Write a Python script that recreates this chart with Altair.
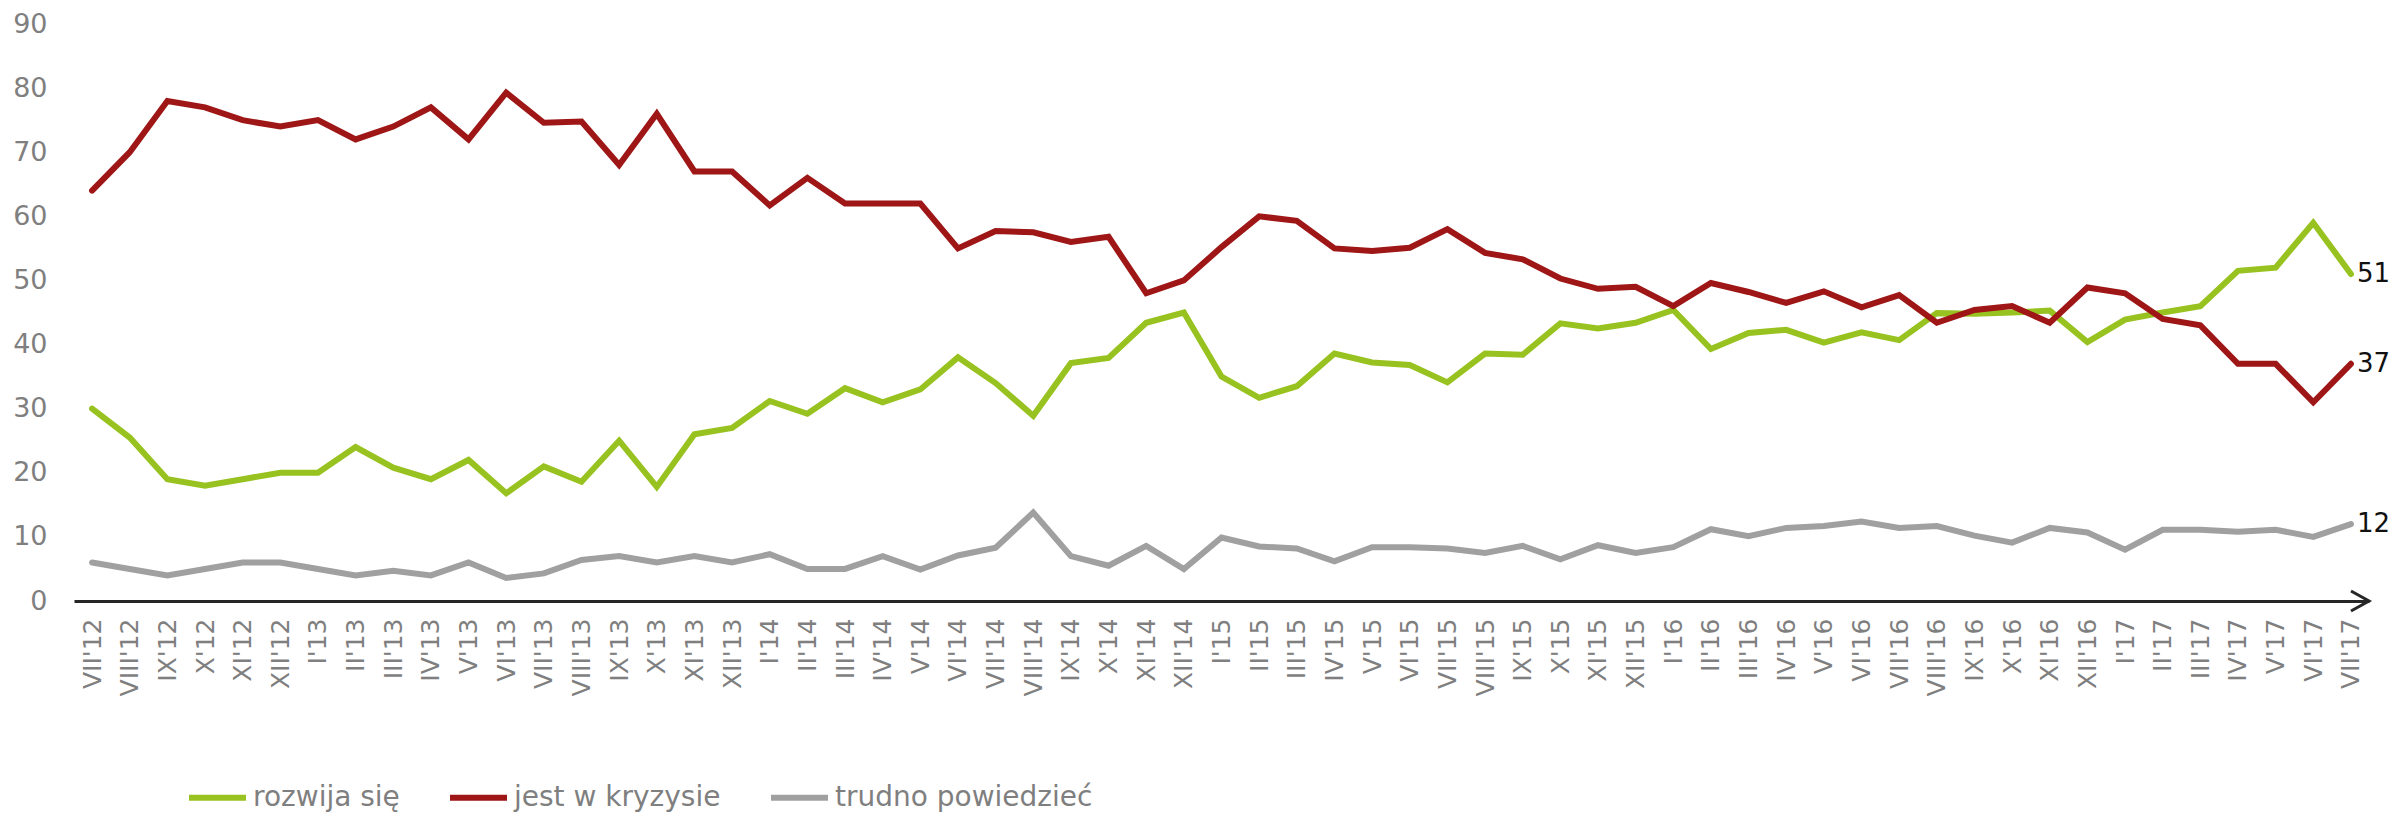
import altair as alt
import pandas as pd

months = ["VII'12", "VIII'12", "IX'12", "X'12", "XI'12", "XII'12",
          "I'13", "II'13", "III'13", "IV'13", "V'13", "VI'13", "VII'13", "VIII'13", "IX'13", "X'13", "XI'13", "XII'13",
          "I'14", "II'14", "III'14", "IV'14", "V'14", "VI'14", "VII'14", "VIII'14", "IX'14", "X'14", "XI'14", "XII'14",
          "I'15", "II'15", "III'15", "IV'15", "V'15", "VI'15", "VII'15", "VIII'15", "IX'15", "X'15", "XI'15", "XII'15",
          "I'16", "II'16", "III'16", "IV'16", "V'16", "VI'16", "VII'16", "VIII'16", "IX'16", "X'16", "XI'16", "XII'16",
          "I'17", "II'17", "III'17", "IV'17", "V'17", "VI'17", "VII'17"]

rozwija = [30, 25.5, 19, 18, 19, 20, 20, 24, 20.8, 19, 22, 16.8, 21, 18.6, 25, 17.8, 26, 27, 31.2, 29.2,
           33.2, 31, 33, 38, 34, 28.9, 37.1, 37.9, 43.4, 45, 35, 31.7, 33.5, 38.6, 37.2, 36.8, 34.1, 38.6,
           38.4, 43.3, 42.5, 43.4, 45.4, 39.3, 41.8, 42.3, 40.3, 41.9, 40.7, 44.9, 44.8, 45, 45.3, 40.4,
           43.9, 45, 46, 51.5, 52, 59, 51]

kryzys = [64, 70, 78, 77, 75, 74, 75, 72, 74, 77, 72, 79.3, 74.6, 74.8, 68, 76, 67, 67, 61.7, 66,
          62, 62, 62, 55, 57.7, 57.5, 56, 56.8, 48, 50, 55.2, 60, 59.3, 55, 54.6, 55.1, 58, 54.3, 53.3,
          50.3, 48.7, 49, 46, 49.6, 48.2, 46.5, 48.3, 45.8, 47.7, 43.4, 45.4, 46, 43.4, 48.9, 48, 44, 43,
          37, 37, 31, 37]

trudno = [6, 5, 4, 5, 6, 6, 5, 4, 4.7, 4, 6, 3.6, 4.3, 6.4, 7, 6, 7, 6, 7.3, 5,
          5, 7, 4.9, 7.1, 8.3, 13.8, 7, 5.5, 8.6, 5, 9.9, 8.5, 8.2, 6.2, 8.4, 8.4, 8.2, 7.5, 8.6, 6.5,
          8.7, 7.5, 8.4, 11.2, 10.1, 11.4, 11.7, 12.4, 11.4, 11.7, 10.2, 9.1, 11.4, 10.7, 8, 11.1, 11.1,
          10.8, 11.1, 10, 12]

series_names = ["rozwija się", "jest w kryzysie", "trudno powiedzieć"]
series_colors = ["#97c21f", "#9e1616", "#a0a0a0"]
y_ticks = [0, 10, 20, 30, 40, 50, 60, 70, 80, 90]

rows = []
for name, vals in zip(series_names, [rozwija, kryzys, trudno]):
    for i, (m, v) in enumerate(zip(months, vals)):
        rows.append({"month": m, "idx": i, "series": name, "value": v,
                     "last": i == len(months) - 1})
df = pd.DataFrame(rows)

W, H = 2295, 577
FONT = "DejaVu Sans"

x_enc = alt.X("month:N", sort=months,
              scale=alt.Scale(type="point", padding=0.48),
              axis=alt.Axis(title=None, labelAngle=-90, labelFontSize=25, labelColor="#7f7f7f",
                            labelPadding=17, ticks=False, tickSize=0, domainColor="#262626",
                            domainWidth=3, labelOverlap=False, grid=False, labelFont=FONT))
y_enc = alt.Y("value:Q", scale=alt.Scale(domain=[0, 90], nice=False),
              axis=alt.Axis(title=None, values=y_ticks, domain=False, ticks=False, tickSize=0,
                            labelPadding=27, labelFontSize=27, labelColor="#7f7f7f", grid=False,
                            labelFont=FONT))

lines = alt.Chart(df).mark_line(strokeWidth=6, strokeCap="round").encode(
    x=x_enc,
    y=y_enc,
    color=alt.Color("series:N",
                    scale=alt.Scale(domain=series_names, range=series_colors),
                    legend=alt.Legend(title=None, orient="none", legendX=112, legendY=742,
                                      direction="horizontal", symbolType="stroke",
                                      symbolSize=3249, symbolStrokeWidth=6, labelFontSize=28,
                                      labelColor="#7f7f7f", labelOffset=4, columnPadding=38,
                                      labelLimit=500, padding=0, labelFont=FONT)),
    order=alt.Order("idx:Q"),
)

end_labels = alt.Chart(df).transform_filter("datum.last").mark_text(
    align="left", baseline="middle", dx=6, fontSize=26, color="#111111", font=FONT
).encode(
    x=alt.X("month:N", sort=months),
    y=alt.Y("value:Q"),
    text=alt.Text("value:Q", format=".0f"),
)

arrow = alt.Chart(pd.DataFrame({"a": [0]})).mark_point(
    shape="M-1,-0.555L0,0L-1,0.555", size=1296, filled=False, strokeWidth=3,
    color="#262626", opacity=1
).encode(x=alt.value(W), y=alt.value(H))

chart = alt.layer(lines, end_labels, arrow).properties(
    width=W, height=H,
    autosize=alt.AutoSizeParams(type="none"),
    padding={"left": 66, "top": 16, "right": 23, "bottom": 213},
).configure(font=FONT).configure_view(stroke=None)

chart.save("out.html", embed_options={"renderer": "svg", "actions": False})
